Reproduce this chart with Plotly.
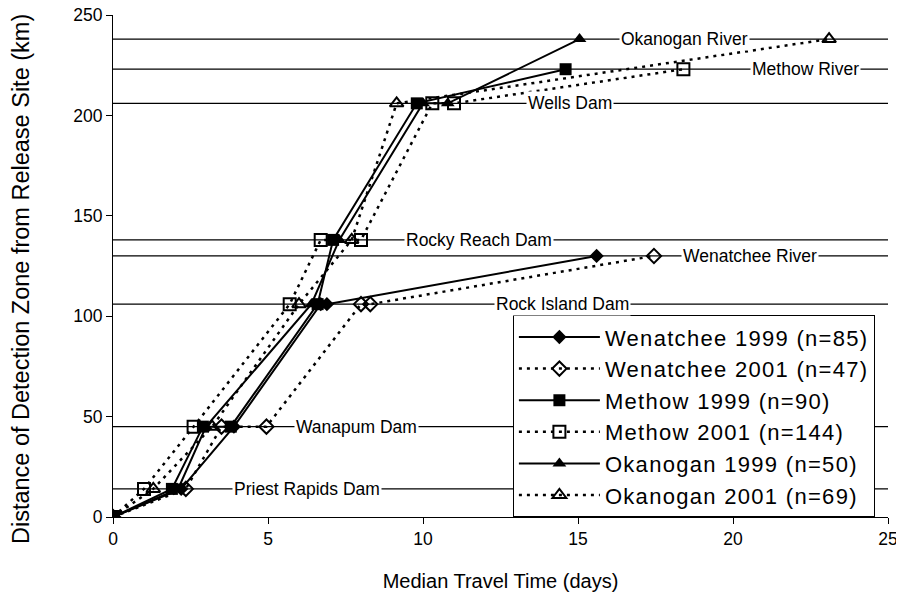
import plotly.graph_objects as go

# Detection sites (km from release) and label positions
site_names = ["Priest Rapids Dam", "Wanapum Dam", "Rock Island Dam", "Wenatchee River",
              "Rocky Reach Dam", "Wells Dam", "Methow River", "Okanogan River"]
site_km = [14, 45, 106, 130, 138, 206, 223, 238]
site_label_x = [6.26, 7.85, 14.5, 20.55, 11.8, 14.75, 22.35, 18.45]

# Series: median travel time (days) and distance (km)
wen99_t = [0, 2.2, 3.9, 6.7, 6.9, 15.6]
wen99_d = [0, 14, 45, 106, 106, 130]
wen01_t = [0, 2.35, 3.5, 4.95, 8.0, 8.3, 17.45]
wen01_d = [0, 14, 45, 45, 106, 106, 130]
met99_t = [0, 1.9, 2.9, 3.8, 6.6, 7.1, 9.8, 14.6]
met99_d = [0, 14, 45, 45, 106, 138, 206, 223]
met01_t = [0, 1.0, 2.6, 5.7, 6.7, 8.0, 10.3, 11.0, 18.4]
met01_d = [0, 14, 45, 106, 138, 138, 206, 206, 223]
oka99_t = [0, 2.1, 3.0, 6.4, 7.3, 10.0, 10.8, 15.05]
oka99_d = [0, 14, 45, 106, 138, 206, 206, 238]
oka01_t = [0, 1.3, 3.2, 6.0, 7.7, 9.15, 23.1]
oka01_d = [0, 14, 45, 106, 138, 206, 238]

series = [
    ("Wenatchee 1999 (n=85)", wen99_t, wen99_d, "diamond", "solid"),
    ("Wenatchee 2001 (n=47)", wen01_t, wen01_d, "diamond-open", "3px,5px"),
    ("Methow 1999 (n=90)", met99_t, met99_d, "square", "solid"),
    ("Methow 2001 (n=144)", met01_t, met01_d, "square-open", "3px,5px"),
    ("Okanogan 1999 (n=50)", oka99_t, oka99_d, "triangle-up", "solid"),
    ("Okanogan 2001 (n=69)", oka01_t, oka01_d, "triangle-up-open", "3px,5px"),
]

FONT = "Liberation Sans, Arial, sans-serif"

fig = go.Figure()

# reference lines
for km in site_km:
    fig.add_shape(type="line", xref="x", yref="y", x0=0, x1=25.2, y0=km, y1=km,
                  line=dict(color="black", width=1.2), layer="below")

for name, t, d, sym, dash in series:
    is_open = sym.endswith("open")
    fig.add_trace(go.Scatter(
        x=t, y=d, name='<span style="letter-spacing:1.3px">' + name + '</span>',
        mode="lines+markers",
        line=dict(color="black", width=2 if dash == "solid" else 2.5, dash=dash),
        marker=dict(symbol=sym, size=11 if "diamond" in sym else 12,
                    color="black",
                    line=dict(color="black", width=2 if is_open else 0)),
    ))

for name, km, lx in zip(site_names, site_km, site_label_x):
    fig.add_annotation(x=lx, y=km, xref="x", yref="y", text=name, showarrow=False,
                       font=dict(family=FONT, size=17.5, color="black"),
                       bgcolor="white", borderpad=1)

# y-axis title (as rotated annotation so it can sit slightly below centre)
fig.add_annotation(x=-0.1187, y=0.474, xref="paper", yref="paper",
                   text="Distance of Detection Zone from Release Site (km)",
                   textangle=-90, showarrow=False, xanchor="center", yanchor="middle",
                   font=dict(family=FONT, size=23.5, color="black"))

fig.update_layout(
    width=896, height=599,
    margin=dict(l=105, r=16, t=7, b=90),
    plot_bgcolor="white", paper_bgcolor="white",
    font=dict(family=FONT, size=17.5, color="black"),
    showlegend=True,
    legend=dict(x=0.516, y=0.402, xanchor="left", yanchor="top",
                bordercolor="black", borderwidth=1, bgcolor="white",
                font=dict(size=22), tracegroupgap=0, itemwidth=81),
)
fig.update_xaxes(range=[0, 25], tickvals=[0, 5, 10, 15, 20, 25], showgrid=False,
                 zeroline=False, showline=True, linecolor="black", linewidth=1,
                 ticks="outside", ticklen=6, tickcolor="black", automargin=False,
                 ticklabeloverflow="allow",
                 title=dict(text="Median Travel Time (days)", font=dict(size=20), standoff=25))
fig.update_yaxes(range=[0, 250], tickvals=[0, 50, 100, 150, 200, 250], showgrid=False,
                 zeroline=False, showline=True, linecolor="black", linewidth=1,
                 ticks="outside", ticklen=6, tickcolor="black", automargin=False,
                 ticklabeloverflow="allow")

fig.write_html("out.html")
